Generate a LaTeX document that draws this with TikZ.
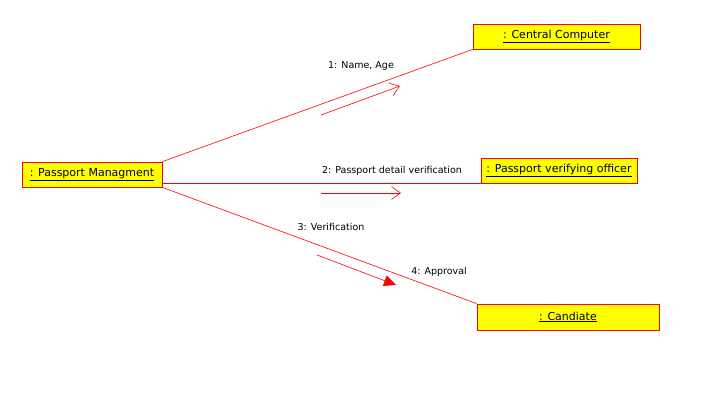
\documentclass[tikz,border=0pt]{standalone}
\usepackage{fontspec}
\setmainfont{DejaVu Sans}
\usetikzlibrary{arrows.meta,calc}
\definecolor{boxyellow}{RGB}{255,255,0}
\definecolor{linkred}{RGB}{255,0,0}

\begin{document}
\begin{tikzpicture}[x=1pt,y=-1pt]
        \useasboundingbox (0,0) rectangle (716,416);
        \tikzset{
            obj/.style={draw=linkred, fill=boxyellow, line width=0.8pt,
                inner sep=0pt, font=\fontsize{11}{12}\selectfont},
            msg/.style={font=\fontsize{9.5}{11}\selectfont, inner sep=0pt},
        }
        \begin{scope}
            \node[obj, minimum width=140pt, minimum height=25pt] (PM) at (92, 174.5)
            {\underline{: Passport Managment}};
            \node[obj, minimum width=167pt, minimum height=25pt] (CC) at (556.5, 36.5)
            {\underline{: Central Computer}};
            \node[obj, minimum width=156pt, minimum height=25pt] (PV) at (559, 170.5)
            {\underline{: Passport verifying officer}};
            \node[obj, minimum width=182pt, minimum height=26pt] (CA) at (568, 317)
            {\underline{: Candiate}};
        \end{scope}

        \begin{scope}
            \node[msg] (M1) at (361, 66) {1: Name, Age};
            \node[msg] (M2) at (392, 171) {2: Passport detail verification};
            \node[msg] (M3) at (331, 227) {3: Verification};
            \node[msg] (M4) at (439, 272) {4: Approval};
            \coordinate (A1s) at (321, 115);
            \coordinate (A1e) at (400, 86);
            \coordinate (A2s) at (321, 193);
            \coordinate (A2e) at (401, 193);
            \coordinate (A3s) at (317, 255);
            \coordinate (A3e) at (396, 285);
        \end{scope}

        \begin{scope}[linkred, line width=0.6pt]
            \draw (PM.north east) -- (CC.south west);
            \draw (PM.east |- PV.south) -- (PV.south west);
            \draw (PM.south east) -- (CA.north west);
            \draw[-{Straight Barb[length=9pt, width=13pt, line width=0.6pt]}] (A1s) -- (A1e);
            \draw[-{Straight Barb[length=9pt, width=13pt, line width=0.6pt]}] (A2s) -- (A2e);
            \draw[-{Triangle[length=12pt, width=11pt]}] (A3s) -- (A3e);
        \end{scope}

        \end{tikzpicture}
\end{document}
